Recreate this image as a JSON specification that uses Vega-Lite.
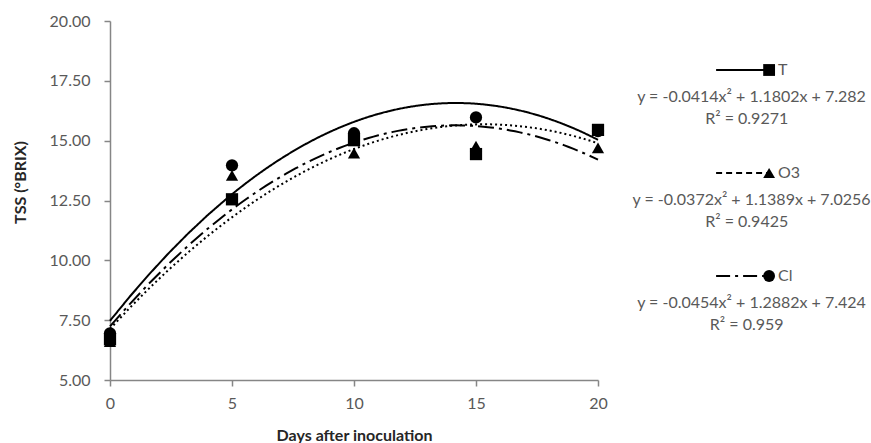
{
  "$schema": "https://vega.github.io/schema/vega-lite/v6.json",
  "padding": {"left": 12, "top": 13, "right": 5, "bottom": 0},
  "background": "white",
  "bounds": "flush",
  "config": {"view": {"stroke": null}, "font": "Lato", "concat": {"spacing": 27}},
  "resolve": {"scale": {"x": "independent", "y": "independent", "shape": "independent", "strokeDash": "independent"}},
  "hconcat": [
    {
      "width": 488,
      "height": 359,
      "data": {"values": [
        {"series": "T", "day": 0, "tss": 6.7},
        {"series": "T", "day": 5, "tss": 12.55},
        {"series": "T", "day": 10, "tss": 15.02},
        {"series": "T", "day": 15, "tss": 14.44},
        {"series": "T", "day": 20, "tss": 15.45},
        {"series": "O3", "day": 0, "tss": 6.6},
        {"series": "O3", "day": 5, "tss": 13.55},
        {"series": "O3", "day": 10, "tss": 14.48},
        {"series": "O3", "day": 15, "tss": 14.77},
        {"series": "O3", "day": 20, "tss": 14.7},
        {"series": "Cl", "day": 0, "tss": 6.95},
        {"series": "Cl", "day": 5, "tss": 13.97},
        {"series": "Cl", "day": 10, "tss": 15.31},
        {"series": "Cl", "day": 15, "tss": 15.97},
        {"series": "Cl", "day": 20, "tss": 15.4}
      ]},
      "layer": [
        {
          "transform": [{"regression": "tss", "on": "day", "groupby": ["series"], "method": "poly", "order": 2, "extent": [0, 20]}],
          "mark": {"type": "line", "color": "black", "strokeWidth": 2},
          "encoding": {
            "x": {"field": "day", "type": "quantitative",
              "scale": {"domain": [0, 20], "nice": false, "zero": false},
              "axis": {"title": "Days after inoculation", "values": [0, 5, 10, 15, 20], "grid": false, "tickSize": 6, "labelPadding": 9, "titlePadding": 16, "labelFontSize": 16, "titleFontSize": 16, "titleFontWeight": "bold", "labelColor": "#595959", "titleColor": "#262626", "domainColor": "#868686", "tickColor": "#868686", "domainWidth": 1.5, "tickWidth": 1.5, "labelFlush": false}},
            "y": {"field": "tss", "type": "quantitative",
              "scale": {"domain": [5, 20], "nice": false, "zero": false},
              "axis": {"title": "TSS (°BRIX)", "values": [5, 7.5, 10, 12.5, 15, 17.5, 20], "format": ".2f", "grid": false, "tickSize": 6, "labelPadding": 14, "titlePadding": 21, "labelFontSize": 16, "titleFontSize": 16, "titleFontWeight": "bold", "labelColor": "#595959", "titleColor": "#262626", "domainColor": "#868686", "tickColor": "#868686", "domainWidth": 1.5, "tickWidth": 1.5, "titleY": 161}},
            "strokeDash": {"field": "series", "type": "nominal", "scale": {"domain": ["T", "O3", "Cl"], "range": [[2, 3], [16, 5, 3, 5], [1, 0]]}, "legend": null}
          }
        },
        {
          "mark": {"type": "point", "filled": true, "color": "black", "size": 150, "opacity": 1},
          "encoding": {
            "x": {"field": "day", "type": "quantitative"},
            "y": {"field": "tss", "type": "quantitative"},
            "shape": {"field": "series", "type": "nominal", "scale": {"domain": ["T", "O3", "Cl"], "range": ["square", "triangle-up", "circle"]}, "legend": null}
          }
        }
      ]
    },
    {
      "width": 241,
      "height": 359,
      "data": {"values": [
        {"series": "T", "eq": "y = -0.0414x² + 1.1802x + 7.282", "r2": "R² = 0.9271"},
        {"series": "O3", "eq": "y = -0.0372x² + 1.1389x + 7.0256", "r2": "R² = 0.9425"},
        {"series": "Cl", "eq": "y = -0.0454x² + 1.2882x + 7.424", "r2": "R² = 0.959"}
      ]},
      "encoding": {
        "y": {"field": "series", "type": "ordinal", "sort": ["T", "O3", "Cl"], "scale": {"type": "point", "range": [49, 255], "padding": 0}, "axis": null}
      },
      "layer": [
        {
          "mark": {"type": "rule", "color": "black", "strokeWidth": 2},
          "encoding": {
            "x": {"datum": 37.8, "type": "quantitative", "scale": {"domain": [0, 100], "nice": false, "zero": false}, "axis": null},
            "x2": {"datum": 59.8},
            "strokeDash": {"field": "series", "type": "nominal", "scale": {"domain": ["T", "O3", "Cl"], "range": [[1, 0], [6, 4], [14, 5, 3, 5]]}, "legend": null}
          }
        },
        {
          "mark": {"type": "point", "filled": true, "color": "black", "size": 140, "opacity": 1},
          "encoding": {
            "x": {"datum": 59.8, "type": "quantitative"},
            "shape": {"field": "series", "type": "nominal", "scale": {"domain": ["T", "O3", "Cl"], "range": ["square", "triangle-up", "circle"]}, "legend": null}
          }
        },
        {
          "mark": {"type": "text", "align": "left", "baseline": "middle", "fontSize": 16, "color": "#595959"},
          "encoding": {"x": {"datum": 63.5, "type": "quantitative"}, "text": {"field": "series"}}
        },
        {
          "mark": {"type": "text", "align": "center", "baseline": "middle", "fontSize": 16, "color": "#595959", "dy": 27},
          "encoding": {"x": {"datum": 52.5, "type": "quantitative"}, "text": {"field": "eq"}}
        },
        {
          "mark": {"type": "text", "align": "center", "baseline": "middle", "fontSize": 16, "color": "#595959", "dy": 49},
          "encoding": {"x": {"datum": 50.5, "type": "quantitative"}, "text": {"field": "r2"}}
        }
      ]
    }
  ]
}
